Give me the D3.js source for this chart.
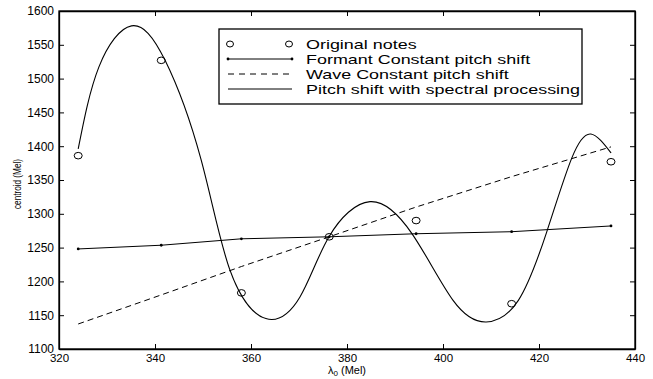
<!DOCTYPE html>
<html>
<head>
<meta charset="utf-8">
<script src="https://cdn.jsdelivr.net/npm/d3@7"></script>
<style>
  body { margin: 0; background: #fff; }
  svg { display: block; font-family: "Liberation Sans", Arial, sans-serif; }
</style>
</head>
<body>
<script>
// note positions (lambda_0, Mel)
const noteX = [324, 341.3, 358, 376.3, 394.4, 414.3, 435];
const originalNotes = [1386, 1527, 1183, 1266, 1290, 1167, 1377];
const formantShift = [1248, 1253.5, 1263, 1266, 1270.5, 1273.5, 1282];
const waveShift = [1137, 1180, 1222, 1266, 1310, 1355, 1399];

// spectral processing curve
const spectralX = [324, 328.3, 335.1, 342.1, 349.6, 355.6, 363.1, 370.2, 376.25, 384.8, 393.6, 402.1, 409, 415.7, 421.6, 426.8, 430.8, 435];
const spectralY = [1396, 1517, 1578, 1527, 1380, 1217, 1145, 1177, 1266, 1318, 1270, 1172, 1140, 1172, 1273, 1382, 1418, 1390];

const xTicks = [320, 340, 360, 380, 400, 420, 440];
const yTicks = [1100, 1150, 1200, 1250, 1300, 1350, 1400, 1450, 1500, 1550, 1600];

const legendLabels = ['Original notes', 'Formant Constant pitch shift', 'Wave Constant pitch shift', 'Pitch shift with spectral processing'];

const w = 653, h = 379;
const margin = {left: 59, right: 18, top: 11, bottom: 30};

const svg = d3.select('body').append('svg')
  .attr('width', w)
  .attr('height', h);

const x = d3.scaleLinear().domain([320, 440]).range([margin.left, w - margin.right]);
const y = d3.scaleLinear().domain([1100, 1600]).range([h - margin.bottom, margin.top]);

// axes, ticks pointing inward on all four sides
const tk = 5;
svg.append('g')
  .attr('transform', 'translate(0,' + (h - margin.bottom) + ')')
  .call(d3.axisBottom(x).tickValues(xTicks).tickSizeInner(-tk).tickSizeOuter(0).tickPadding(6).tickFormat(d3.format('d')))
  .call(g => g.selectAll('text').attr('font-size', 11.5).attr('dy', '0.62em'));
svg.append('g')
  .attr('transform', 'translate(0,' + margin.top + ')')
  .call(d3.axisTop(x).tickValues(xTicks).tickSizeInner(-tk).tickSizeOuter(0).tickFormat(''));
svg.append('g')
  .attr('transform', 'translate(' + margin.left + ',0)')
  .call(d3.axisLeft(y).tickValues(yTicks).tickSizeInner(-tk).tickSizeOuter(0).tickPadding(5).tickFormat(d3.format('d')))
  .call(g => g.selectAll('text').attr('font-size', 12));
svg.append('g')
  .attr('transform', 'translate(' + (w - margin.right) + ',0)')
  .call(d3.axisRight(y).tickValues(yTicks).tickSizeInner(-tk).tickSizeOuter(0).tickFormat(''));

svg.selectAll('.domain').attr('stroke', '#000').attr('stroke-width', 1.3);
svg.selectAll('.tick line').attr('stroke', '#000');
svg.selectAll('.tick text').attr('fill', '#000').attr('font-family', '"Liberation Sans", Arial, sans-serif');

// frame
svg.append('rect')
  .attr('x', margin.left).attr('y', margin.top)
  .attr('width', w - margin.left - margin.right)
  .attr('height', h - margin.top - margin.bottom)
  .attr('fill', 'none').attr('stroke', '#000').attr('stroke-width', 1.3);

const plot = svg.append('g');

// wave constant (dashed)
plot.append('path')
  .datum(noteX.map((d, i) => [d, waveShift[i]]))
  .attr('fill', 'none').attr('stroke', '#000').attr('stroke-width', 1)
  .attr('stroke-dasharray', '6,4')
  .attr('d', d3.line().x(d => x(d[0])).y(d => y(d[1])));

// formant constant
plot.append('path')
  .datum(noteX.map((d, i) => [d, formantShift[i]]))
  .attr('fill', 'none').attr('stroke', '#000').attr('stroke-width', 1)
  .attr('d', d3.line().x(d => x(d[0])).y(d => y(d[1])));
plot.selectAll('.fdot')
  .data(noteX.map((d, i) => [d, formantShift[i]]))
  .enter().append('circle')
  .attr('cx', d => x(d[0])).attr('cy', d => y(d[1]))
  .attr('r', 1.4).attr('fill', '#000');

// spectral processing
plot.append('path')
  .datum(spectralX.map((d, i) => [d, spectralY[i]]))
  .attr('fill', 'none').attr('stroke', '#000').attr('stroke-width', 1.1)
  .attr('d', d3.line().curve(d3.curveNatural).x(d => x(d[0])).y(d => y(d[1])));

// original notes
plot.selectAll('.note')
  .data(noteX.map((d, i) => [d, originalNotes[i]]))
  .enter().append('ellipse')
  .attr('cx', d => x(d[0])).attr('cy', d => y(d[1]))
  .attr('rx', 4).attr('ry', 3.3)
  .attr('fill', 'none').attr('stroke', '#000').attr('stroke-width', 1);

// legend
const lg = svg.append('g');
lg.append('rect')
  .attr('x', 219).attr('y', 29).attr('width', 363).attr('height', 75)
  .attr('fill', '#fff').attr('stroke', '#000').attr('stroke-width', 1.3);
const rowY = [44, 59, 74, 89];
lg.selectAll('text')
  .data(legendLabels)
  .enter().append('text')
  .attr('transform', (d, i) => 'translate(306,' + rowY[i] + ') scale(1.38,1)')
  .attr('dy', '0.35em')
  .attr('font-size', 13)
  .text(d => d);
lg.selectAll('.lc')
  .data([230, 289])
  .enter().append('ellipse')
  .attr('cx', d => d).attr('cy', rowY[0])
  .attr('rx', 3.5).attr('ry', 3)
  .attr('fill', 'none').attr('stroke', '#000');
lg.append('line').attr('x1', 228).attr('x2', 292).attr('y1', rowY[1]).attr('y2', rowY[1]).attr('stroke', '#000');
lg.selectAll('.ld')
  .data([228, 292])
  .enter().append('circle')
  .attr('cx', d => d).attr('cy', rowY[1]).attr('r', 1.4).attr('fill', '#000');
lg.append('line').attr('x1', 228).attr('x2', 292).attr('y1', rowY[2]).attr('y2', rowY[2])
  .attr('stroke', '#000').attr('stroke-dasharray', '6,5');
lg.append('line').attr('x1', 228).attr('x2', 292).attr('y1', rowY[3]).attr('y2', rowY[3]).attr('stroke', '#000');

// axis titles
const xt = svg.append('text')
  .attr('x', 347).attr('y', 374)
  .attr('text-anchor', 'middle')
  .attr('font-size', 11);
xt.append('tspan').text('λ');
xt.append('tspan').attr('font-size', 8).attr('dy', 2).text('0');
xt.append('tspan').attr('dy', -2).text(' (Mel)');

svg.append('text')
  .attr('transform', 'translate(21,184) rotate(-90)')
  .attr('text-anchor', 'middle')
  .attr('font-size', 11)
  .attr('textLength', 50)
  .attr('lengthAdjust', 'spacingAndGlyphs')
  .text('centroid (Mel)');
</script>
</body>
</html>
